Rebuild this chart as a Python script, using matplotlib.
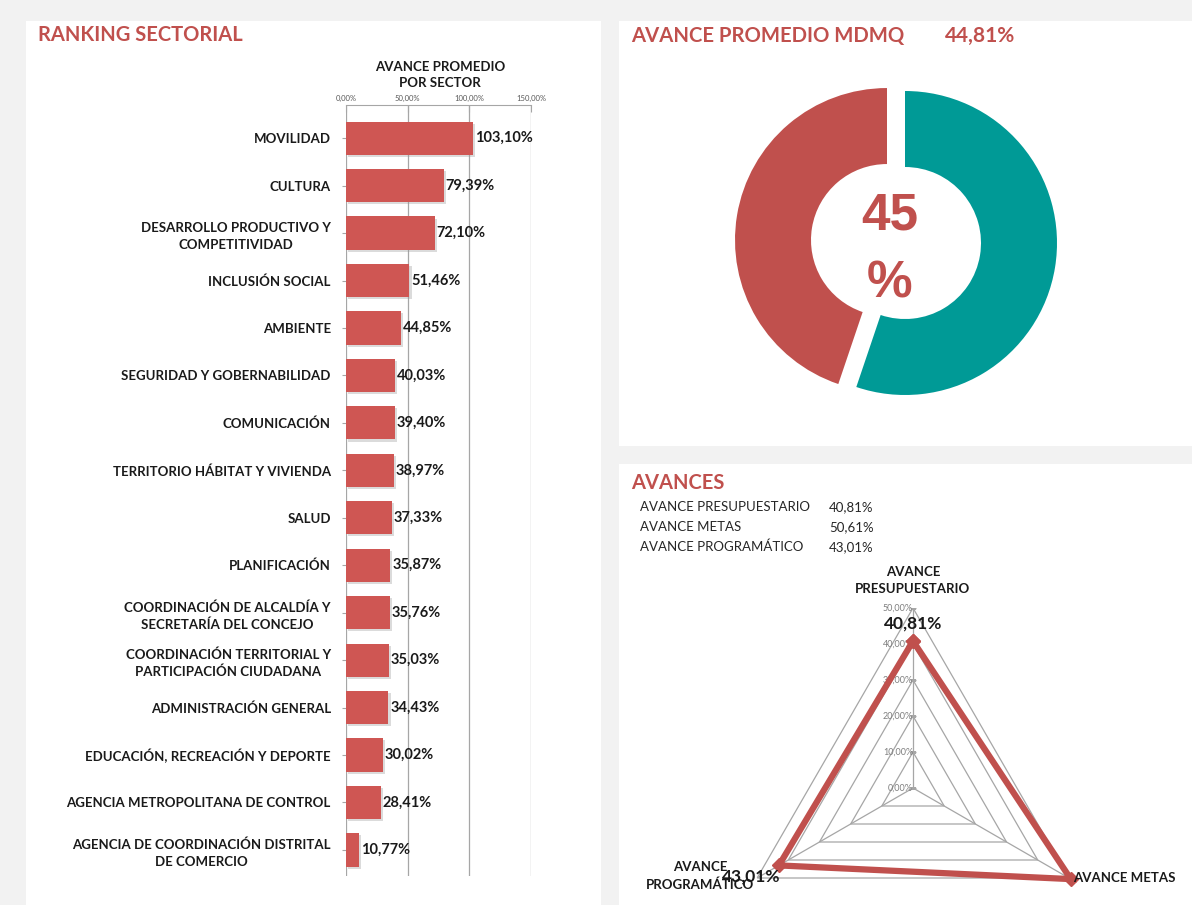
import matplotlib.pyplot as plt
import matplotlib.patheffects as pe
from matplotlib.patches import Rectangle
import numpy as np

plt.rcParams['font.family'] = ['Lato', 'DejaVu Sans']

# data
sectores = ["MOVILIDAD", "CULTURA", "DESARROLLO PRODUCTIVO Y\nCOMPETITIVIDAD",
            "INCLUSIÓN SOCIAL", "AMBIENTE", "SEGURIDAD Y GOBERNABILIDAD",
            "COMUNICACIÓN", "TERRITORIO HÁBITAT Y VIVIENDA", "SALUD", "PLANIFICACIÓN",
            "COORDINACIÓN DE ALCALDÍA Y\nSECRETARÍA DEL CONCEJO",
            "COORDINACIÓN TERRITORIAL Y\nPARTICIPACIÓN CIUDADANA",
            "ADMINISTRACIÓN GENERAL", "EDUCACIÓN, RECREACIÓN Y DEPORTE",
            "AGENCIA METROPOLITANA DE CONTROL",
            "AGENCIA DE COORDINACIÓN DISTRITAL\nDE COMERCIO"]
avance_sector = [103.10, 79.39, 72.10, 51.46, 44.85, 40.03, 39.40, 38.97, 37.33,
                 35.87, 35.76, 35.03, 34.43, 30.02, 28.41, 10.77]
x_ticks = [0, 50, 100, 150]

promedio = 44.81
donut_vals = [100 - promedio, promedio]

avances_nombres = ["AVANCE PRESUPUESTARIO", "AVANCE METAS", "AVANCE PROGRAMÁTICO"]
avances_vals = [40.81, 50.61, 43.01]
radar_levels = [0, 10, 20, 30, 40, 50]

RED = '#c0504d'
BAR = '#cf5653'
TEAL = '#009a96'
GRID = '#a6a6a6'
INK = '#1a1a1a'
W, H = 1192, 905


def pct(v):
    return f"{v:.2f}%".replace('.', ',')


def fx(px):
    return px / W


def fy(py):
    return 1 - py / H


fig = plt.figure(figsize=(W / 100, H / 100), dpi=100, facecolor='#f2f2f2')

# white panels
for x0, y0, x1, y1 in [(26, 21, 601, 905), (619, 21, 1192, 446), (619, 464, 1192, 905)]:
    fig.add_artist(Rectangle((fx(x0), fy(y1)), fx(x1 - x0), (y1 - y0) / H,
                             transform=fig.transFigure, facecolor='white', edgecolor='none',
                             zorder=0))

# ---------- ranking sectorial ----------
fig.text(fx(38), fy(35), "RANKING SECTORIAL", color=RED, fontsize=14.5, fontweight='bold',
         va='center')
fig.text(fx(440), fy(75), "AVANCE PROMEDIO\nPOR SECTOR", fontsize=9.5, fontweight='bold',
         ha='center', va='center', linespacing=1.45, color=INK)

ax = fig.add_axes([fx(346), fy(876), fx(531 - 346), (876 - 105) / H])
y = np.arange(len(sectores))
bars = ax.barh(y, avance_sector, height=0.7, color=BAR, zorder=3)
for b in bars:
    b.set_path_effects([pe.SimplePatchShadow(offset=(1.5, -1.5), shadow_rgbFace='#999999',
                                             alpha=0.35),
                        pe.Normal()])
for yi, v in zip(y, avance_sector):
    ax.text(v + 1.5, yi, pct(v), va='center', ha='left', fontsize=10.5, fontweight='bold',
            color=INK, zorder=4)
ax.set_xlim(0, 150)
ax.set_ylim(len(sectores) - 0.45, -0.7)
ax.xaxis.tick_top()
ax.set_xticks(x_ticks)
ax.set_xticklabels([pct(t) for t in x_ticks], fontsize=5.5, color='#595959')
ax.tick_params(axis='x', direction='in', length=5, color=GRID, pad=2)
ax.set_yticks(y)
ax.set_yticklabels(sectores, fontsize=9.5, fontweight='bold', color=INK)
for lbl in ax.get_yticklabels():
    lbl.set_multialignment('center')
    lbl.set_linespacing(1.45)
ax.tick_params(axis='y', length=3, color=GRID, pad=8)
ax.grid(axis='x', color=GRID, lw=0.9, zorder=0)
for s in ['right', 'bottom', 'left']:
    ax.spines[s].set_visible(False)
ax.spines['top'].set_color(GRID)

# ---------- avance promedio ----------
fig.text(fx(631), fy(36), "AVANCE PROMEDIO MDMQ", color=RED, fontsize=14.6, fontweight='bold',
         va='center')
fig.text(fx(945), fy(36), pct(promedio), color=RED, fontsize=15, fontweight='bold',
         va='center')

r_px = 152
half = 1.3 * r_px
ax2 = fig.add_axes([fx(905 - half), fy(243 + half), fx(2 * half), 2 * half / H])
ax2.pie(donut_vals, colors=[TEAL, RED], startangle=90, counterclock=False,
        explode=[0, 0.12], wedgeprops=dict(width=0.5, edgecolor='none'))
ax2.set_xlim(-1.3, 1.3)
ax2.set_ylim(-1.3, 1.3)
ax2.text(-0.1, 0.18, f"{round(promedio)}", color=RED, fontsize=37, fontweight='bold',
         family='Liberation Sans', ha='center', va='center')
ax2.text(-0.1, -0.27, "%", color=RED, fontsize=37, fontweight='bold',
         family='Liberation Sans', ha='center', va='center')

# ---------- avances ----------
fig.text(fx(631), fy(483), "AVANCES", color=RED, fontsize=14.5, fontweight='bold', va='center')
for i, (n, v) in enumerate(zip(avances_nombres, avances_vals)):
    fig.text(fx(640), fy(507 + 20 * i), n, fontsize=9.5, color='#262626', va='center')
    fig.text(fx(829), fy(507 + 20 * i), pct(v), fontsize=9.5, color='#262626', va='center')

rr = 180
ax3 = fig.add_axes([fx(913 - rr), fy(788 + rr), fx(2 * rr), 2 * rr / H], projection='polar')
ax3.set_theta_zero_location('N')
ax3.set_theta_direction(-1)
ax3.set_ylim(0, 50)
ax3.grid(False)
ax3.set_xticks([])
ax3.set_yticks([])
ax3.spines['polar'].set_visible(False)
ax3.patch.set_alpha(0)

ang = np.deg2rad([0, 120, 240])
ang_c = np.append(ang, ang[0])
for lv in radar_levels[1:]:
    ax3.plot(ang_c, [lv] * 4, color=GRID, lw=0.9, zorder=1)
for a in ang:
    ax3.plot([a, a], [0, radar_levels[-1]], color=GRID, lw=0.9, zorder=1)
for lv in radar_levels:
    ax3.plot([0], [lv], marker='_', color=GRID, ms=4, zorder=1)
    ax3.annotate(pct(lv), (0, lv), xytext=(0, 0), textcoords='offset points', ha='right',
                 va='center', fontsize=6.5, color='#7f7f7f')

vals_c = avances_vals + avances_vals[:1]
ax3.plot(ang_c, vals_c, color=RED, lw=4.5, marker='D', ms=7, clip_on=False, zorder=3,
         solid_joinstyle='miter')

ax3.annotate(pct(avances_vals[0]), (ang[0], avances_vals[0]), xytext=(0, 13),
             textcoords='offset points', ha='center', va='center', fontsize=12.5,
             fontweight='bold', color=INK, annotation_clip=False)
ax3.annotate(pct(avances_vals[2]), (ang[2], avances_vals[2]), xytext=(-20, -8),
             textcoords='offset points', ha='center', va='center', fontsize=12.5,
             fontweight='bold', color=INK, annotation_clip=False)

ax3.annotate("AVANCE\nPRESUPUESTARIO", (0, 50), xytext=(0, 20), textcoords='offset points',
             ha='center', va='center', fontsize=9.5, fontweight='bold', color=INK,
             linespacing=1.5, annotation_clip=False)
ax3.annotate("AVANCE METAS", (ang[1], 50), xytext=(3, 0), textcoords='offset points',
             ha='left', va='center', fontsize=9.5, fontweight='bold', color=INK,
             annotation_clip=False)
ax3.annotate("AVANCE\nPROGRAMÁTICO", (ang[2], 50), xytext=(-41, 1.5), textcoords='offset points',
             ha='center', va='center', fontsize=9.5, fontweight='bold', color=INK,
             linespacing=1.6, annotation_clip=False)

fig.savefig('out.png', dpi=100, facecolor=fig.get_facecolor())
